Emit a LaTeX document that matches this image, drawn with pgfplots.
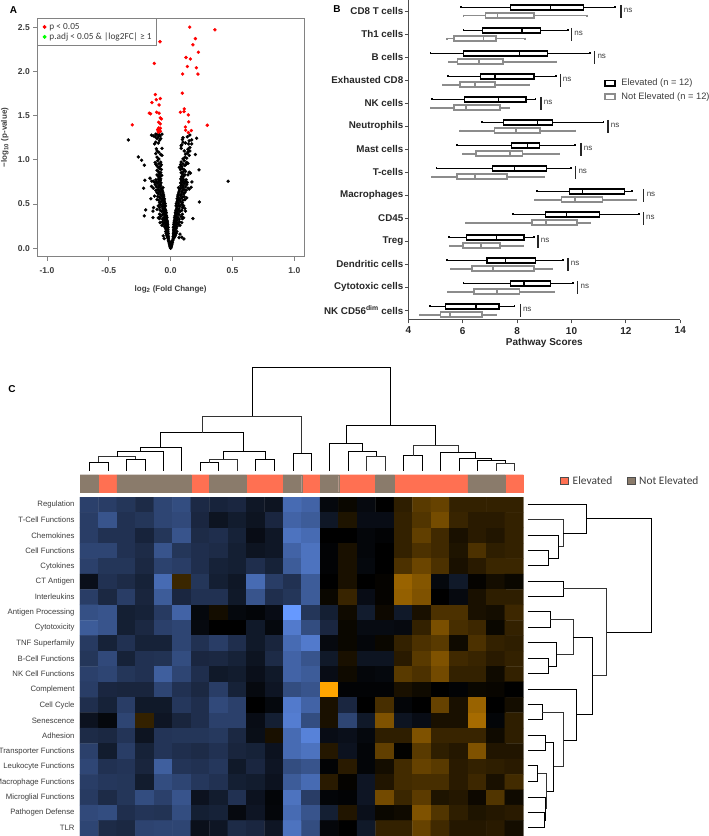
\documentclass[border=0pt]{standalone}
\usepackage{fontspec}
\usepackage{pgfplots}
\pgfplotsset{compat=1.18}
\usepgfplotslibrary{statistics}
\setmainfont{Liberation Sans}
\newfontfamily\calib{Carlito}
\definecolor{frameg}{RGB}{130,130,130}
\definecolor{txtg}{RGB}{60,60,60}
\definecolor{boxg}{RGB}{140,140,140}
\definecolor{anred}{RGB}{255,112,82}
\definecolor{anbrown}{RGB}{138,123,107}
\newcommand\fs[1]{\fontsize{#1}{#1}\selectfont}
\newcommand\bxE[6]{\addplot[draw=black,solid,boxplot/every box/.style={draw=black,line width=1.4pt},boxplot/every whisker/.style={draw=black,line width=1.7pt},boxplot/every median/.style={draw=black,line width=1.4pt},boxplot prepared={draw position=#1,lower whisker=#2,lower quartile=#3,median=#4,upper quartile=#5,upper whisker=#6}] coordinates {};}
\newcommand\bxN[6]{\addplot[draw=boxg,solid,boxplot/every box/.style={draw=boxg,line width=1.7pt},boxplot/every whisker/.style={draw=boxg,line width=1.7pt},boxplot/every median/.style={draw=boxg,line width=1.7pt},boxplot prepared={draw position=#1,lower whisker=#2,lower quartile=#3,median=#4,upper quartile=#5,upper whisker=#6}] coordinates {};}
\newcommand\nsb[2]{\draw[line width=1.1pt,black!85] (axis cs:#1,#2-0.28)--(axis cs:#1,#2+0.28); \node[anchor=west,inner sep=0pt,font=\fs{8},text=txtg] at (axis cs:#1+0.1,#2-0.03) {ns};}
\begin{document}
\begin{tikzpicture}
\useasboundingbox (0pt,0pt) rectangle (709pt,836pt);
% ---------- A
\begin{axis}[at={(37.3pt,579.3pt)},anchor=south west,scale only axis,width=266.7pt,height=238.4pt,
 xmin=-1.078,xmax=1.078,ymin=-0.095,ymax=2.60,
 xtick={-1,-0.5,0,0.5,1},ytick={0,0.5,1,1.5,2,2.5},
 axis line style={draw=frameg,line width=0.9pt},
 tick style={draw=frameg,line width=0.8pt},major tick length=4pt,tick align=outside,tick pos=left,
 tick label style={font=\bfseries\fs{8.5},text=txtg},
 xticklabel style={yshift=-3.5pt},
 /pgf/number format/assume math mode=true,/pgf/number format/fixed,/pgf/number format/fixed zerofill,/pgf/number format/precision=1,
 xlabel={log\textsubscript{2} (Fold Change)},ylabel={−log\textsubscript{10} (p-value)},
 label style={font=\bfseries\fs{8},text=txtg},
 xlabel style={yshift=-5pt},ylabel style={yshift=2.5pt},
 legend style={at={(0,1)},anchor=north west,draw=frameg,line width=0.8pt,font=\calib\fs{9.3},text=txtg,inner xsep=3pt,inner ysep=2.5pt,row sep=-2pt,cells={anchor=west}},
 legend cell align=left,
 legend image code/.code={\path (0pt,0pt) (6pt,0pt); \filldraw[#1] (3.5pt,0pt) circle (1.5pt);}]
\addplot[only marks,mark=*,mark size=1.5pt,black,forget plot] coordinates {
(0,0)(-.002,.01)(.002,.01)(-.004,.02)(.004,.02)(-.006,.03)(.006,.03)(-.009,.045)(.009,.04)(-.012,.06)(.012,.06)(-.015,.075)(.015,.07)(-.018,.09)(.018,.09)(.002,.03)(-.001,.02)(0,.005)(.003,.045)(-.003,.05)(-.007,.065)(.008,.08)
(-.018,.105)(-.02,.115)(-.024,.12)(-.018,.13)(-.028,.135)(-.022,.145)(-.032,.15)(-.024,.16)(-.02,.165)(-.036,.17)(-.026,.18)(-.022,.185)(-.04,.19)(-.028,.2)(-.024,.205)(-.052,.11)(-.06,.14)
(.02,.105)(.022,.115)(.028,.12)(.02,.13)(.034,.135)(.024,.145)(.04,.15)(.026,.16)(.022,.165)(.044,.17)(.028,.18)(.024,.185)(.05,.19)(.03,.2)(.026,.205)(.068,.12)(.075,.16)(.107,.106)(.09,.125)
(-.022,.21)(-.03,.215)(-.04,.22)(-.026,.23)(-.02,.235)(-.034,.24)(-.05,.245)(-.024,.25)(-.032,.26)(-.042,.265)(-.024,.27)(-.06,.275)(-.028,.28)(-.036,.285)(-.048,.29)(-.026,.295)(-.07,.26)(-.085,.29)(-.065,.3)(-.033,.3)
(-.028,.31)(-.038,.315)(-.05,.32)(-.032,.33)(-.066,.33)(-.044,.34)(-.09,.335)(-.03,.35)(-.054,.35)(-.1,.345)(-.143,.347)(-.038,.36)(-.08,.36)(-.034,.37)(-.048,.375)(-.066,.38)(-.038,.39)(-.09,.385)(-.056,.395)(-.213,.366)
(-.036,.405)(-.05,.41)(-.072,.415)(-.04,.425)(-.056,.43)(-.085,.43)(-.202,.434)(-.143,.42)(-.138,.46)(-.044,.44)(-.064,.445)(-.048,.455)(-.09,.46)(-.05,.47)(-.07,.475)(-.042,.48)(-.058,.49)(-.084,.495)(-.1,.48)(-.11,.44)
(-.044,.505)(-.062,.51)(-.09,.515)(-.05,.525)(-.076,.53)(-.054,.54)(-.096,.545)(-.066,.55)(-.11,.55)(-.05,.56)(-.08,.565)(-.06,.575)(-.092,.58)(-.105,.585)(-.056,.59)(-.074,.595)(-.16,.56)(-.13,.59)
(-.058,.605)(-.08,.61)(-.1,.615)(-.062,.625)(-.085,.635)(-.11,.63)(-.066,.645)(-.092,.65)(-.07,.66)(-.104,.665)(-.12,.655)(-.078,.675)(-.062,.685)(-.095,.69)(-.14,.68)(-.218,.679)(-.115,.695)(-.155,.7)
(-.08,.705)(-.095,.71)(-.125,.72)(-.085,.725)(-.105,.735)(-.078,.74)(-.095,.75)(-.13,.745)(-.208,.769)(-.167,.792)(-.153,.76)(-.14,.758)(-.115,.75)(-.085,.765)(-.1,.775)(-.08,.785)(-.12,.775)(-.095,.795)
(-.085,.81)(-.1,.815)(-.072,.825)(-.09,.84)(-.11,.83)(-.08,.855)(-.098,.865)(-.11,.88)(-.075,.89)(-.09,.9)
(-.1,.915)(-.085,.925)(-.112,.935)(-.075,.945)(-.095,.955)(-.12,.95)(-.08,.975)(-.105,.99)(-.125,.97)
(-.095,1.01)(-.11,1.03)(-.07,1.05)(-.08,1.06)(-.12,1.07)(-.095,1.085)(-.11,1.1)
(-.07,1.13)(-.13,1.18)(-.115,1.125)(-.12,1.2)(-.1,1.19)(-.09,1.22)(-.08,1.24)(-.11,1.24)(-.125,1.26)(-.1,1.26)(-.085,1.27)(-.14,1.27)(-.155,1.28)(-.095,1.285)(-.07,1.29)(-.11,1.285)(-.12,1.29)
(-.342,1.225)(-.261,1.033)(-.235,.995)(-.213,.939)
(.024,.21)(.033,.215)(.044,.22)(.028,.23)(.022,.235)(.038,.24)(.052,.245)(.026,.25)(.035,.26)(.046,.265)(.026,.27)(.062,.275)(.03,.28)(.04,.285)(.05,.29)(.028,.295)(.075,.26)(.09,.29)(.07,.3)(.036,.3)
(.03,.31)(.04,.315)(.054,.32)(.034,.33)(.07,.33)(.046,.34)(.095,.335)(.18,.336)(.032,.35)(.058,.35)(.105,.345)(.04,.36)(.085,.36)(.036,.37)(.05,.375)(.068,.38)(.04,.39)(.095,.385)(.058,.395)
(.038,.405)(.052,.41)(.076,.415)(.042,.425)(.06,.43)(.09,.43)(.12,.42)(.046,.44)(.068,.445)(.05,.455)(.095,.46)(.052,.47)(.074,.475)(.044,.48)(.062,.49)(.088,.495)(.105,.48)(.115,.45)
(.046,.505)(.066,.51)(.094,.515)(.232,.524)(.052,.525)(.08,.53)(.056,.54)(.1,.545)(.07,.55)(.115,.55)(.052,.56)(.084,.565)(.062,.575)(.096,.58)(.11,.585)(.058,.59)(.08,.595)(.13,.57)
(.06,.605)(.084,.61)(.105,.615)(.064,.625)(.09,.635)(.115,.63)(.068,.645)(.096,.65)(.072,.66)(.108,.665)(.125,.655)(.082,.675)(.15,.67)(.064,.685)(.098,.69)(.14,.68)(.12,.695)(.165,.69)
(.082,.705)(.1,.71)(.13,.72)(.088,.725)(.11,.735)(.08,.74)(.098,.75)(.135,.745)(.12,.755)(.088,.765)(.105,.775)(.082,.785)(.125,.775)(.098,.795)(.172,.75)(.464,.758)
(.088,.81)(.105,.815)(.14,.83)(.095,.84)(.115,.83)(.085,.855)(.102,.865)(.16,.85)(.12,.87)(.11,.885)(.08,.89)(.095,.9)(.229,.886)(.15,.86)
(.07,.915)(.09,.925)(.115,.935)(.08,.945)(.1,.955)(.125,.95)(.14,.96)(.085,.975)(.11,.99)(.13,.97)
(.1,1.01)(.115,1.03)(.13,1.02)(.2,1.06)(.15,1.05)(.12,1.065)(.135,1.075)(.14,1.09)(.11,1.1)(.155,1.1)
(.085,1.13)(.14,1.12)(.155,1.14)(.085,1.16)(.09,1.17)(.145,1.18)(.12,1.19)(.17,1.18)(.1,1.2)(.15,1.215)(.17,1.225)(.095,1.23)(.21,1.244)(.1,1.25)(.155,1.28)(.135,1.26)
};
\addplot[only marks,mark=*,mark size=1.5pt,red,fill=red,draw=red] coordinates {
(.154,2.50)(.358,2.47)(.20,2.37)(-.086,2.335)(.18,2.30)(.224,2.217)(.124,2.157)(.159,2.14)(-.132,2.09)(.135,2.055)(.208,2.04)(.097,1.97)(.221,1.97)(.094,1.753)(-.124,1.738)(-.084,1.693)(-.116,1.68)(-.151,1.648)(-.094,1.62)(.11,1.576)(.108,1.546)(.078,1.538)(-.113,1.538)(-.173,1.527)(-.162,1.52)(-.094,1.527)(.143,1.508)(-.084,1.474)(-.075,1.463)(.146,1.429)(-.097,1.425)(-.084,1.406)(-.31,1.395)(.296,1.391)(.119,1.372)(-.097,1.361)(-.084,1.357)(-.105,1.342)(-.092,1.346)(.167,1.331)(.121,1.335)(-.102,1.327)(-.084,1.323)(.143,1.308)(-.1,1.312)
};
\addlegendentry{p < 0.05}
\addlegendimage{draw=green,fill=green}
\addlegendentry{p.adj < 0.05 \& |log2FC| ≥ 1}
\end{axis}
% ---------- B
\begin{axis}[at={(408.3pt,516pt)},anchor=south west,scale only axis,width=272pt,height=320pt,
 xmin=4,xmax=14,ymin=-0.49,ymax=13.42,y dir=reverse,clip=false,
 axis x line=bottom,axis y line=left,axis line style={-,draw=black!70,line width=1pt},
 tick style={draw=black!70,line width=0.9pt},major tick length=3.5pt,tick align=outside,
 xtick={4,6,8,10,12,14},ytick={0,...,13},
 yticklabels={CD8 T cells,Th1 cells,B cells,Exhausted CD8,NK cells,Neutrophils,Mast cells,T-cells,Macrophages,CD45,Treg,Dendritic cells,Cytotoxic cells,NK CD56\textsuperscript{dim} cells},
 tick label style={font=\bfseries\fs{10},text=black!85},
 yticklabel style={xshift=2pt,font=\bfseries\fs{9.8}},
 /pgf/number format/assume math mode=true,
 xlabel={Pathway Scores},xlabel style={font=\bfseries\fs{10},text=black!85,yshift=3pt},
 boxplot/draw direction=x,boxplot/box extend=0.22,boxplot/whisker extend=0.09,
 legend style={at={(0.7195,0.76)},anchor=north west,draw=none,fill=none,font=\fs{9.3},text=txtg,inner sep=0pt,row sep=1.5pt,cells={anchor=west}},
 legend cell align=left,
 legend image code/.code={\path (0pt,0pt) (13.5pt,0pt); \draw[#1] (0pt,-2.7pt) rectangle (10pt,2.7pt);}]
\addlegendimage{draw=black,line width=1.4pt,fill=white}\addlegendentry{Elevated (n = 12)}
\addlegendimage{draw=boxg,line width=1.7pt,fill=white}\addlegendentry{Not Elevated (n = 12)}
\bxE{-0.17}{5.94}{7.76}{9.22}{10.45}{11.60}\bxN{0.19}{6.03}{6.84}{7.28}{8.63}{10.58}
\bxE{0.83}{6.03}{6.73}{8.18}{8.85}{9.88}\bxN{1.19}{5.43}{5.69}{6.77}{7.22}{8.28}
\bxE{1.83}{4.82}{6.03}{8.08}{9.11}{10.68}\bxN{2.19}{5.48}{5.81}{6.60}{7.47}{9.45}
\bxE{2.83}{5.46}{6.66}{7.19}{8.62}{9.43}\bxN{3.19}{5.26}{5.91}{6.46}{7.19}{8.44}
\bxE{3.83}{4.88}{6.06}{7.31}{8.33}{8.68}\bxN{4.19}{4.82}{5.67}{6.13}{7.38}{7.69}
\bxE{4.83}{6.71}{7.49}{8.74}{9.31}{11.18}\bxN{5.19}{5.91}{7.17}{7.95}{8.83}{10.14}
\bxE{5.83}{5.78}{7.80}{8.39}{8.82}{10.14}\bxN{6.19}{6.00}{6.49}{7.73}{8.20}{9.55}
\bxE{6.83}{5.04}{7.10}{7.90}{9.07}{9.97}\bxN{7.19}{4.88}{5.80}{6.45}{7.63}{8.98}
\bxE{7.83}{8.74}{9.93}{10.40}{11.95}{12.22}\bxN{8.19}{8.67}{9.63}{10.13}{11.14}{12.37}
\bxE{8.83}{7.85}{9.05}{9.81}{11.03}{12.47}\bxN{9.19}{6.11}{8.56}{9.07}{10.19}{10.68}
\bxE{9.83}{5.50}{6.14}{7.24}{8.26}{8.61}\bxN{10.19}{5.51}{6.00}{6.67}{7.36}{8.23}
\bxE{10.83}{5.43}{6.90}{7.57}{8.67}{9.69}\bxN{11.19}{5.58}{6.35}{7.11}{8.61}{9.29}
\bxE{11.83}{6.03}{7.76}{8.26}{9.23}{10.05}\bxN{12.19}{5.47}{6.41}{7.26}{8.09}{9.37}
\bxE{12.83}{4.81}{5.36}{6.49}{7.33}{7.90}\bxN{13.19}{4.44}{5.18}{5.54}{6.70}{7.22}
\nsb{11.82}{0}\nsb{10.0}{1}\nsb{10.85}{2}\nsb{9.58}{3}\nsb{8.88}{4}\nsb{11.34}{5}\nsb{10.35}{6}\nsb{10.15}{7}\nsb{12.66}{8}\nsb{12.64}{9}\nsb{8.77}{10}\nsb{9.87}{11}\nsb{10.23}{12}\nsb{8.11}{13}
\end{axis}
% ---------- C top dendrogram
\begin{axis}[at={(70pt,336pt)},anchor=south west,scale only axis,width=460pt,height=140pt,
 xmin=0,xmax=1380,ymin=0,ymax=420,y dir=reverse,hide axis,clip=false,
 cycle list={{solid,no marks,draw=black!80,line width=0.9pt}}]
\addplot coordinates {(58,332)(58,306)(114,306)(114,332)};
\addplot coordinates {(170,332)(170,298)(226,298)(226,332)};
\addplot coordinates {(86,306)(86,290)(197,290)(197,298)};
\addplot coordinates {(141,290)(141,273)(280,273)(280,332)};
\addplot coordinates {(210,273)(210,261)(335,261)(335,332)};
\addplot coordinates {(391,332)(391,308)(446,308)(446,332)};
\addplot coordinates {(418,308)(418,298)(502,298)(502,332)};
\addplot coordinates {(557,332)(557,298)(613,298)(613,332)};
\addplot coordinates {(460,298)(460,275)(586,275)(586,298)};
\addplot coordinates {(272,261)(272,218)(521,218)(521,275)};
\addplot coordinates {(397,218)(397,168)(695,168)(695,281)};
\addplot coordinates {(669,332)(669,281)(724,281)(724,332)};
\addplot coordinates {(546,168)(546,22)(962,22)(962,196)};
\addplot coordinates {(828,250)(828,196)(1096,196)(1096,255)};
\addplot coordinates {(890,332)(890,289)(945,289)(945,332)};
\addplot coordinates {(835,332)(835,275)(918,275)(918,289)};
\addplot coordinates {(779,332)(779,250)(877,250)(877,275)};
\addplot coordinates {(1001,332)(1001,287)(1057,287)(1057,332)};
\addplot coordinates {(1278,332)(1278,310)(1334,310)(1334,332)};
\addplot coordinates {(1223,332)(1223,300)(1306,300)(1306,310)};
\addplot coordinates {(1168,332)(1168,294)(1264,294)(1264,300)};
\addplot coordinates {(1112,332)(1112,277)(1216,277)(1216,294)};
\addplot coordinates {(1029,287)(1029,255)(1164,255)(1164,277)};
\end{axis}
% ---------- C annotation bar
\begin{axis}[at={(80pt,344pt)},anchor=south west,scale only axis,width=443.3pt,height=17.3pt,
 xmin=-0.5,xmax=23.5,ymin=0,ymax=1,hide axis,clip=false,ybar,bar width=1,bar shift=0pt,
 legend style={at={(1.083,1.03)},anchor=north west,draw=none,fill=none,font=\calib\fs{11.4},text=txtg,inner sep=0pt,legend columns=2,/tikz/every even column/.append style={column sep=12.5pt}},
 legend image code/.code={\path (0pt,0pt) (10pt,0pt); \draw[#1,line width=0.8pt,draw=black!70] (0pt,-3.5pt) rectangle (8pt,3.5pt);}]
\addplot[fill=anred,draw=anred,line width=0.1pt] coordinates {(1,1)(6,1)(9,1)(10,1)(12,1)(14,1)(15,1)(17,1)(18,1)(19,1)(20,1)(23,1)};
\addlegendentry{Elevated}
\addplot[fill=anbrown,draw=anbrown,line width=0.1pt] coordinates {(0,1)(2,1)(3,1)(4,1)(5,1)(7,1)(8,1)(11,1)(13,1)(16,1)(21,1)(22,1)};
\addlegendentry{Not Elevated}
\end{axis}
% ---------- C heatmap
\begin{axis}[at={(80pt,0pt)},anchor=south west,scale only axis,width=443.3pt,height=339pt,
 xmin=-0.5,xmax=23.5,ymin=-0.5,ymax=21.5,y dir=reverse,axis line style={draw=none},
 xtick=\empty,ytick={0,...,21},major tick length=0pt,
 yticklabels={Regulation,T-Cell Functions,Chemokines,Cell Functions,Cytokines,CT Antigen,Interleukins,Antigen Processing,Cytotoxicity,TNF Superfamily,B-Cell Functions,NK Cell Functions,Complement,Cell Cycle,Senescence,Adhesion,Transporter Functions,Leukocyte Functions,Macrophage Functions,Microglial Functions,Pathogen Defense,TLR},
 yticklabel style={font=\fs{7.75},text=txtg,xshift=-2pt},
 colormap={hm}{rgb255=(102,153,255) rgb255=(0,0,0) rgb255=(255,165,0)},point meta min=-10,point meta max=10]
\addplot[matrix plot*,mesh/cols=24,point meta=explicit] table[row sep=\\,x expr={mod(\coordindex,24)},y expr={(\coordindex-mod(\coordindex,24))/24},meta=v] {v\\
-4.2\\-4\\-3.5\\-2.8\\-4.5\\-5\\-2.7\\-2.3\\-2.5\\-1.5\\-1.3\\-7\\-6.5\\-0.5\\0.4\\-0.6\\0\\1.8\\3.5\\4\\2\\2\\2\\2\\
-4\\-5.5\\-3.2\\-3.5\\-4.5\\-4.8\\-2.5\\-1.3\\-1.8\\-1.3\\-2.5\\-6.5\\-6\\-1.5\\1.2\\-0.8\\-0.8\\2\\3.2\\4.6\\2.2\\1.6\\1.6\\2\\
-4\\-3.2\\-3.2\\-2.3\\-3.5\\-5.5\\-2.8\\-3\\-2.2\\-0.8\\-1.5\\-7.5\\-7\\0\\0\\-0.4\\-0.2\\2\\3.8\\2.5\\1\\1.6\\1.3\\2\\
-4.5\\-4.5\\-3.2\\-2.8\\-5.5\\-3.5\\-3\\-2.8\\-2\\-1.3\\-1.5\\-6.5\\-7.5\\-0.2\\1\\-0.4\\0\\2\\3\\2.5\\1.2\\3\\1.8\\2\\
-4.2\\-3.5\\-3.5\\-2.6\\-4.3\\-4\\-3\\-2.2\\-2\\-3\\-2.2\\-6\\-7.5\\-0.2\\1\\-0.5\\0\\3\\4.2\\3\\1\\1.6\\2.3\\2.3\\
-1\\-3.2\\-2.8\\-2.2\\-7\\2.3\\-3.5\\-2\\-1.5\\-7\\-4\\-3.2\\-6\\0\\1\\0\\0.2\\6\\5.2\\-0.5\\-1.6\\0.2\\0.8\\0.4\\
-4\\-2.6\\-4\\-2.4\\-6\\-2.5\\-3.2\\-3.2\\-1.6\\-5.5\\-3\\-3.5\\-6\\0.4\\2.2\\-0.8\\0.2\\5.8\\5\\0\\-0.6\\1\\1.8\\1.8\\
-5.2\\-5.5\\-2\\-2.2\\-3.8\\-6.5\\-0.5\\0.8\\-0.5\\-0.3\\-0.8\\-10\\-3.5\\-2\\0.6\\-1.8\\0.5\\-1.6\\1\\3\\3\\1\\0.8\\2.4\\
-6\\-5.5\\-2\\-2.6\\-4.2\\-4.5\\-0.6\\0\\0\\-1.6\\-0.5\\-8\\-5\\-2.5\\0.4\\-0.7\\-0.7\\-0.6\\2\\4.8\\2.8\\2.4\\0.4\\2\\
-3.8\\-2.2\\-3.2\\-2.2\\-2.2\\-4.5\\-3.2\\-4\\-3\\-1.6\\-2.4\\-7\\-8\\-0.6\\0.4\\-0.4\\0.4\\2\\3\\3.5\\0.6\\3\\2\\1.8\\
-3.5\\-4.8\\-2.2\\-3.2\\-3.3\\-5\\-2.5\\-2.6\\-2.2\\-1.3\\-2.8\\-6.5\\-5.5\\-1.6\\1\\-1.3\\-1.3\\1.6\\3.5\\5\\2.5\\2.2\\1.6\\2\\
-4.2\\-4.5\\-3.5\\-3.2\\-6.2\\-4.5\\-3\\-1.6\\-1.8\\-1\\-1.6\\-6.5\\-6\\-0.8\\0.6\\-0.4\\-0.5\\3.5\\3\\4.5\\2\\2\\0.6\\2\\
-4\\-2.5\\-2.4\\-2.4\\-4.5\\-3.2\\-2.6\\-4\\-2.2\\-0.6\\-1.4\\-5\\-5.5\\10\\-0.2\\-0.2\\-0.2\\1\\0.6\\0\\-0.2\\0.4\\0.3\\0\\
-3\\-2.2\\-4\\-1.6\\-1.6\\-3.6\\-3\\-4.8\\-4.2\\0\\-0.5\\-8\\-6.5\\1\\-2.5\\0\\2.8\\-0.3\\0\\4\\1\\6\\0\\0.8\\
-1.2\\-0.5\\-4.5\\2\\-1.4\\-2.4\\-3\\-4.2\\-4.2\\-0.8\\-2\\-8.2\\-5\\1\\-4.5\\-1.6\\5\\-1.3\\-0.8\\1\\1\\6.5\\-0.3\\1.8\\
-2.8\\-2.6\\-3.4\\-1.3\\-3.4\\-3.5\\-3.5\\-3.7\\-2.6\\-0.9\\1\\-7\\-8.5\\-0.8\\-1\\-0.5\\1.8\\1.8\\5\\2.2\\2.2\\2.2\\0.6\\1.8\\
-4.2\\-1.8\\-4\\-2.2\\-3.4\\-3\\-2.8\\-3.2\\-2.4\\-2.2\\-1.2\\-7\\-7.5\\1.4\\-1.2\\-0.3\\3.8\\0.1\\3.5\\1.8\\1.4\\5\\1.3\\1.3\\
-4.6\\-3.2\\-3.4\\-2.4\\-6.2\\-3.4\\-3.2\\-3.6\\-1.6\\-2.5\\-1.4\\-5\\-5.5\\-0.2\\1.6\\-0.3\\0.8\\2.6\\4\\3.5\\1.6\\2\\1.8\\1.6\\
-4\\-3.6\\-3.5\\-1.8\\-5\\-4.5\\-3.6\\-3.2\\-2\\-1.8\\-1.2\\-6\\-7\\1.6\\0.2\\-1.4\\1.3\\2.6\\2.8\\2.8\\1.6\\2.4\\1\\2.6\\
-3.8\\-2.8\\-3.5\\-5\\-4.2\\-5.5\\-1.2\\-1.8\\-3.2\\-1.2\\-0.3\\-7.5\\-4\\-0.3\\-0.2\\-1.4\\4.5\\2.3\\3.6\\1.2\\1.4\\0.5\\3.2\\0.6\\
-4.8\\-5\\-3\\-3.4\\-3.3\\-5\\-2\\-2.2\\-0.6\\-1.4\\-0.4\\-7\\-5.5\\-2\\1.3\\-1\\0.4\\0.6\\5\\3.2\\1.8\\1.2\\1.4\\1.6\\
-4.5\\-2.8\\-2.6\\-4.4\\-4.5\\-4.5\\-1\\-1.4\\-2.8\\-2.5\\-1.4\\-7.5\\-5\\-0.4\\0\\-1.6\\2\\2\\4\\2.5\\1.4\\1.4\\1.6\\0.8\\
};
\end{axis}
% ---------- C right dendrogram
\begin{axis}[at={(520pt,0pt)},anchor=south west,scale only axis,width=189pt,height=376pt,
 xmin=0,xmax=567,ymin=0,ymax=1128,y dir=reverse,hide axis,clip=false,
 cycle list={{solid,no marks,draw=black!80,line width=0.9pt}}]
\addplot coordinates {(23,270)(84,270)(84,317)(23,317)};
\addplot coordinates {(23,225)(116,225)(116,295)(84,295)};
\addplot coordinates {(23,178)(130,178)(130,259)(116,259)};
\addplot coordinates {(23,132)(198,132)(198,220)(130,220)};
\addplot coordinates {(198,176)(394,176)(394,516)(260,516)};
\addplot coordinates {(23,363)(130,363)(130,409)(23,409)};
\addplot coordinates {(130,386)(260,386)(260,647)(218,647)};
\addplot coordinates {(23,455)(90,455)(90,502)(23,502)};
\addplot coordinates {(23,595)(84,595)(84,641)(23,641)};
\addplot coordinates {(23,548)(110,548)(110,618)(84,618)};
\addplot coordinates {(90,478)(159,478)(159,582)(110,582)};
\addplot coordinates {(159,532)(218,532)(218,763)(169,763)};
\addplot coordinates {(23,688)(169,688)(169,840)(130,840)};
\addplot coordinates {(23,733)(67,733)(67,779)(23,779)};
\addplot coordinates {(67,756)(130,756)(130,920)(100,920)};
\addplot coordinates {(23,826)(75,826)(75,871)(23,871)};
\addplot coordinates {(75,848)(100,848)(100,995)(78,995)};
\addplot coordinates {(23,917)(53,917)(53,964)(23,964)};
\addplot coordinates {(53,941)(78,941)(78,1045)(74,1045)};
\addplot coordinates {(23,1011)(76,1011)(76,1080)(72,1080)};
\addplot coordinates {(23,1056)(72,1056)(72,1103)(23,1103)};
\end{axis}
\node[anchor=center,font=\bfseries\fs{10}] at (13.5pt,826pt) {A};
\node[anchor=center,font=\bfseries\fs{10}] at (337pt,826.7pt) {B};
\node[anchor=center,font=\bfseries\fs{10}] at (12pt,447pt) {C};
\end{tikzpicture}
\end{document}
